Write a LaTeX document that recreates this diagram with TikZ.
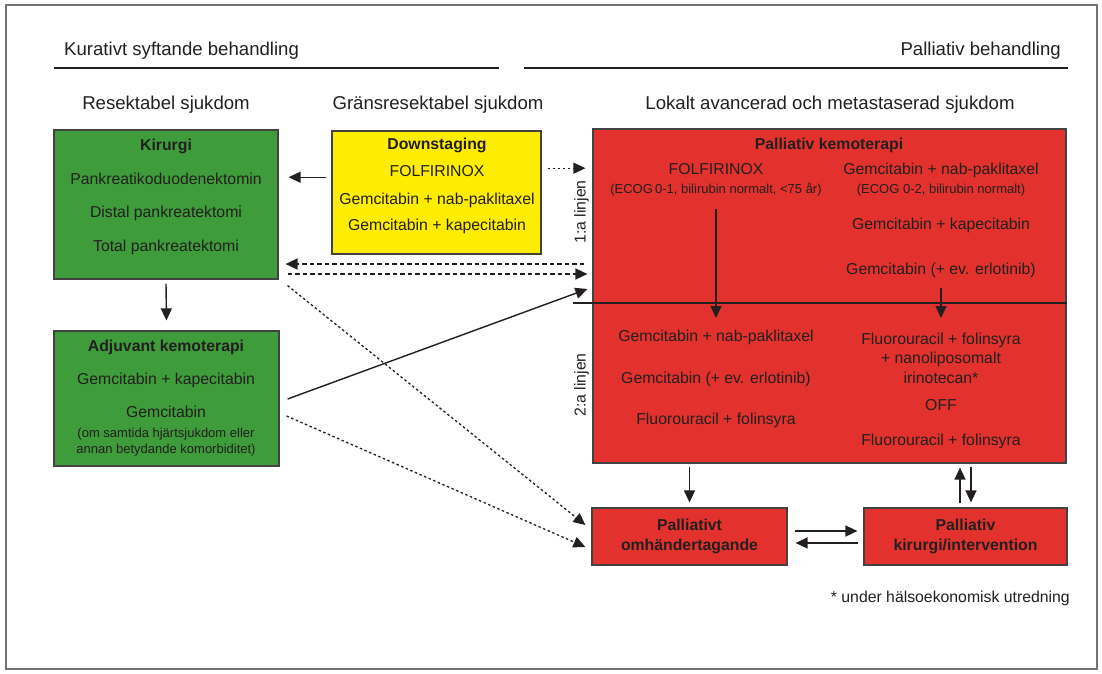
\documentclass[tikz,border=0pt]{standalone}
\usepackage{fontspec}
\setmainfont{Liberation Sans}
\usepackage{tikz}
\usetikzlibrary{arrows.meta}
\usetikzlibrary{calc}
\definecolor{ink}{RGB}{35,31,32}
\definecolor{kurgron}{RGB}{62,156,58}
\definecolor{gransgul}{RGB}{255,237,0}
\definecolor{palrod}{RGB}{227,50,45}
\tikzstyle{ruta}=[draw=ink!85, line width=1.2pt, inner sep=0pt]
\tikzstyle{gbox}=[ruta, fill=kurgron]
\tikzstyle{ybox}=[ruta, fill=gransgul]
\tikzstyle{rbox}=[ruta, fill=palrod]
\tikzstyle{brod}=[inner sep=0pt, anchor=mid, text=ink, font=\fontsize{15.8}{19.5}\selectfont]
\tikzstyle{fet}=[brod, font=\fontsize{15.8}{20}\selectfont\bfseries]
\tikzstyle{liten}=[brod, font=\fontsize{13}{16.5}\selectfont]
\tikzstyle{rubrik}=[brod, font=\fontsize{18.6}{22}\selectfont]
\tikzstyle{pil}=[draw=ink, line width=1.4pt, -{Triangle[length=12pt,width=11pt]}]
\tikzstyle{streck}=[pil, line width=1.6pt, dash pattern=on 4.5pt off 3pt]
\tikzstyle{prick}=[pil, line width=1.3pt, dash pattern=on 2.5pt off 2.5pt]

\begin{document}
\begin{tikzpicture}[x=1pt,y=-1pt]
 \useasboundingbox (0,0) rectangle (1102,673);
 \draw[black!55, line width=1.5pt] (6,5) rectangle (1097,669);
%
 \node[rubrik, anchor=mid west] (kur) at (64,53) {Kurativt syftande behandling};
 \node[rubrik, anchor=mid east] (pall) at (1061,53) {Palliativ behandling};
 \draw[ink, line width=2.8pt] (54,68) -- (499,68);
 \draw[ink, line width=2.8pt] (524,68) -- (1068,68);
 \node[rubrik] (res) at (166,107) {Resektabel sjukdom};
 \node[rubrik] (grans) at (438,107) {Gränsresektabel sjukdom};
 \node[rubrik] (lok) at (830,107) {Lokalt avancerad och metastaserad sjukdom};
%
 \node[gbox, minimum width=224, minimum height=149] (kir) at (166,204.5) {};
 \node[ybox, minimum width=209, minimum height=123] (gul) at (436.5,192.5) {};
 \node[rbox, minimum width=473, minimum height=334] (kemo) at (829.5,296) {};
 \node[gbox, minimum width=225, minimum height=135] (adj) at (166.5,398.5) {};
 \node[rbox, fet, anchor=center, align=center, minimum width=195, minimum height=57] (omh) at (689.5,536.5) {Palliativt\\omhändertagande};
 \node[rbox, fet, anchor=center, align=center, minimum width=203, minimum height=57] (pkir) at (965.5,536.5) {Palliativ\\kirurgi/intervention};
 \coordinate (skil) at (573,303);
 \draw[ink, line width=1.2pt] (skil) -- (skil -| kemo.east);
%
 \node[fet] (kirt) at (166,148) {Kirurgi};
 \node[brod] (pank) at (166,182) {Pankreatikoduodenektomin};
 \node[brod] (dist) at (166,215) {Distal pankreatektomi};
 \node[brod] (tot) at (166,249) {Total pankreatektomi};
%
 \node[fet] (down) at (437,147) {Downstaging};
 \node[brod] (gfol) at (437,174) {FOLFIRINOX};
 \node[brod] (gnab) at (437,202) {Gemcitabin + nab-paklitaxel};
 \node[brod] (gkap) at (437,228) {Gemcitabin + kapecitabin};
%
 \node[fet] (kemot) at (829,147) {Palliativ kemoterapi};
 \node[brod] (fol1) at (716,172) {FOLFIRINOX};
 \node[liten] (ecog1) at (716,191) {(ECOG\,0-1, bilirubin normalt, <75 år)};
 \node[brod] (nab1) at (941,172) {Gemcitabin + nab-paklitaxel};
 \node[liten] (ecog2) at (941,191) {(ECOG 0-2, bilirubin normalt)};
 \node[brod] (kap1) at (941,227) {Gemcitabin + kapecitabin};
 \node[brod] (erl1) at (941,272) {Gemcitabin (+ ev. erlotinib)};
 \node[brod] (nab2) at (716,339) {Gemcitabin + nab-paklitaxel};
 \node[brod] (erl2) at (716,381) {Gemcitabin (+ ev. erlotinib)};
 \node[brod] (flu2) at (716,422) {Fluorouracil + folinsyra};
 \node[brod, anchor=center, align=center] (nal2) at (941,358) {Fluorouracil + folinsyra\\+ nanoliposomalt\\irinotecan*};
 \node[brod] (off2) at (941,408) {OFF};
 \node[brod] (flu3) at (941,443) {Fluorouracil + folinsyra};
 \node[brod, rotate=90] (lin1) at (583,212) {1:a linjen};
 \node[brod, rotate=90] (lin2) at (583,385) {2:a linjen};
%
 \node[fet] (adjt) at (166,349) {Adjuvant kemoterapi};
 \node[brod] (akap) at (166,382) {Gemcitabin + kapecitabin};
 \node[brod] (agem) at (166,415) {Gemcitabin};
 \node[liten, anchor=center, align=center] (akom) at (166,442) {(om samtida hjärtsjukdom eller\\annan betydande komorbiditet)};
%
 \node[brod, anchor=mid east] (fot) at (1070,600) {* under hälsoekonomisk utredning};
%
 \draw[pil] ($(gul.west |- gfol)+(-5,6)$) -- ($(kir.east |- gfol)+(10,6)$);
 \draw[prick] ($(gul.east |- gfol)+(6,-3)$) -- ($(kemo.west |- gfol)+(-7,-3)$);
 \draw[streck] ($(kemo.west)+(-8,-32)$) -- ($(kir.east)+(7,59.5)$);
 \draw[streck] ($(kir.east)+(9,69.5)$) -- ($(kemo.west)+(-5,-22)$);
 \draw[pil] ($(kir.south)+(0,4)$) -- ($(adj.north)+(0,-10)$);
 \draw[pil] ($(adj.east)+(8,0.5)$) -- ($(kemo.west)+(-5,-7)$);
 \draw[prick] ($(kir.south east)+(9,6)$) -- ($(omh.west)+(-6,-11.5)$);
 \draw[prick] ($(adj.east)+(7,17.5)$) -- ($(omh.west)+(-6,10.5)$);
%
 \draw[pil] ($(fol1 |- skil)+(0,-94)$) -- ($(fol1 |- skil)+(0,15)$);
 \draw[pil] ($(erl1 |- skil)+(0,-15)$) -- ($(erl1 |- skil)+(0,15)$);
 \draw[pil] ($(kemo.south -| omh)+(0,3)$) -- ($(omh.north)+(0,-5)$);
 \draw[pil] ($(omh.east)+(7,-5.5)$) -- ($(pkir.west)+(-6,-5.5)$);
 \draw[pil] ($(pkir.west)+(-5,6.5)$) -- ($(omh.east)+(8,6.5)$);
 \draw[pil] ($(pkir.north)+(-5.5,-4)$) -- ($(kemo.south -| pkir)+(-5.5,4)$);
 \draw[pil] ($(kemo.south -| pkir)+(5.5,3)$) -- ($(pkir.north)+(5.5,-5)$);
\end{tikzpicture}
\end{document}
